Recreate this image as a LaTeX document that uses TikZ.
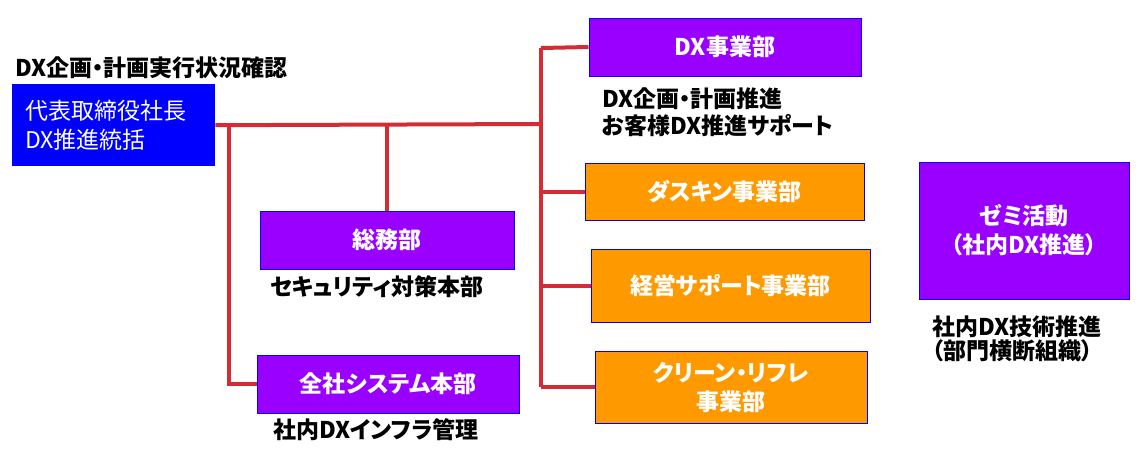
\documentclass[tikz,border=0pt]{standalone}
\usepackage{fontspec}
\setmainfont[RawFeature=+palt]{Noto Sans CJK JP}
\usetikzlibrary{positioning}
\definecolor{dxpurple}{RGB}{153,0,255}
\definecolor{dxorange}{RGB}{255,153,0}
\definecolor{dxblue}{RGB}{0,0,255}
\definecolor{linkred}{RGB}{211,44,52}

\begin{document}
\begin{tikzpicture}[
x=1pt, y=-1pt,
font=\bfseries\fontsize{23}{29}\selectfont,
unit/.style={rectangle, draw=dxblue, line width=1pt, fill=dxpurple, text=white, align=center, inner sep=2pt},
biz/.style={unit, fill=dxorange},
note/.style={anchor=west, align=left, inner sep=0pt},
link/.style={draw=linkred, line width=4pt}
]
\useasboundingbox (0,0) rectangle (1148,451);

\node[rectangle, fill=dxblue, text=white, anchor=north west, minimum height=82pt, text width=177pt, inner xsep=13pt, align=left, font=\mdseries\fontsize{23}{29}\selectfont] (ceo) at (12,84) {代表取締役社長\\DX推進統括};
\node[note] (ceolbl) at (15,68) {DX企画・計画実行状況確認};

\node[unit, minimum width=272pt, minimum height=58pt] (dx) at (725,47) {DX事業部};
\node[biz, minimum width=279pt, minimum height=57pt] (dusk) at (724.5,191.5) {ダスキン事業部};
\node[biz, minimum width=279pt, minimum height=73pt] (keiei) at (730.5,285.5) {経営サポート事業部};
\node[biz, minimum width=272pt, minimum height=72pt] (clean) at (731,387) {クリーン・リフレ\\事業部};
\node[unit, minimum width=254pt, minimum height=58pt] (soumu) at (387,240) {総務部};
\node[unit, minimum width=262pt, minimum height=58pt] (zensha) at (388,384) {全社システム本部};
\node[unit, minimum width=210pt, minimum height=137pt] (zemi) at (1024,230.5) {ゼミ活動\\（社内DX推進）};

\node[note, font=\bfseries\fontsize{23}{27}\selectfont] (dxlbl) at (602,112.5) {DX企画・計画推進\\お客様DX推進サポート};
\node[note] (soumulbl) at (270,287) {セキュリティ対策本部};
\node[note] (zenshalbl) at (273,430) {社内DXインフラ管理};
\node[note, font=\bfseries\fontsize{23}{24}\selectfont] (zemilbl) at (932,338.5) {社内DX技術推進\\（部門横断組織）};

% trunk and branches
\coordinate (hub) at (541,124);
\coordinate (top) at (541,48);
\coordinate (bot) at (541,387);
\coordinate (jl) at (229,124);

\draw[link] (ceo.east) -- (hub);
\draw[link] (top) -- (bot);
\draw[link] (top) -- (dx.west);
\draw[link] (top |- dusk.west) -- (dusk.west);
\draw[link] (top |- keiei.west) -- (keiei.west);
\draw[link] (bot) -- (clean.west);
\draw[link] (soumu.north |- hub) -- (soumu.north);
\draw[link] (jl) |- (zensha.west);

\end{tikzpicture}
\end{document}
